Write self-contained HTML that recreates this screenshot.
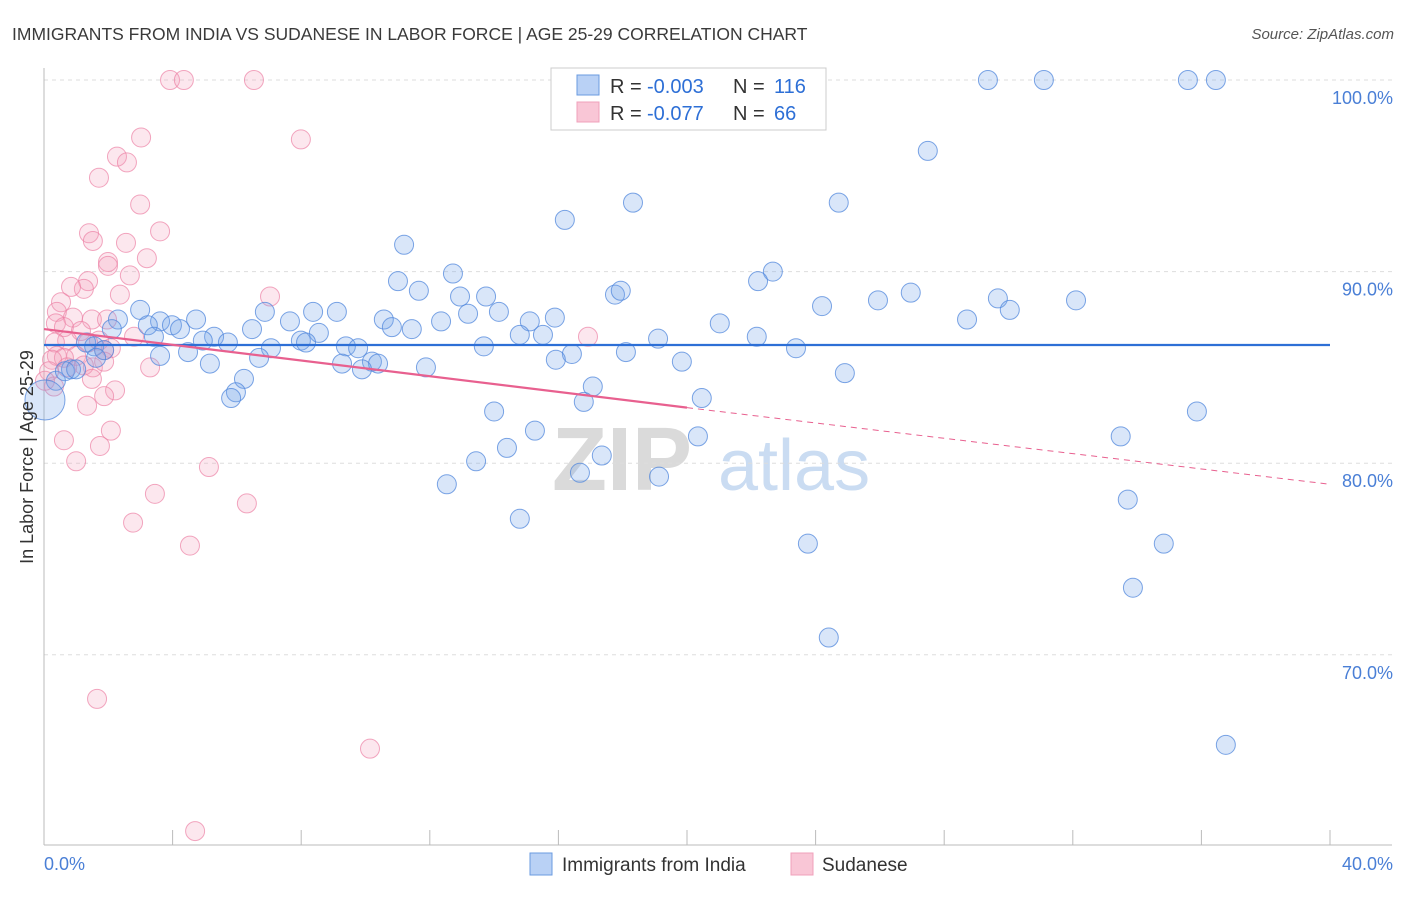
<!DOCTYPE html>
<html><head><meta charset="utf-8"><style>
body{margin:0;background:#fff;font-family:"Liberation Sans",sans-serif;}
svg text{font-family:"Liberation Sans",sans-serif;}
</style></head><body>
<svg id="chart" width="1406" height="892" xmlns="http://www.w3.org/2000/svg">
<text x="12" y="40" font-size="17.5" fill="#3a3a3a">IMMIGRANTS FROM INDIA VS SUDANESE IN LABOR FORCE | AGE 25-29 CORRELATION CHART</text>
<text x="1394" y="39" font-size="15" fill="#555" text-anchor="end" font-style="italic">Source: ZipAtlas.com</text>
<g>
<text x="552" y="490" font-size="90" fill="#dadada" font-family="Liberation Serif" font-weight="bold">ZIP</text>
<text x="718" y="490" font-size="72" fill="#cadcf2">atlas</text>
</g>
<g id="grid"></g>
<g id="axes"></g>
<g id="points"></g>
<g id="trends"></g>
<text transform="translate(33,457) rotate(-90)" font-size="18" fill="#333" text-anchor="middle">In Labor Force | Age 25-29</text>
<g>
<rect x="551" y="68" width="275" height="62" fill="#fff" stroke="#ccc"/>
<rect x="577" y="75" width="22" height="20" fill="#b9d1f5" stroke="#6a9be0"/>
<text x="610" y="93" font-size="20" fill="#333">R = </text>
<text x="647" y="93" font-size="20" fill="#2d6fd6">-0.003</text>
<text x="733" y="93" font-size="20" fill="#333">N = </text>
<text x="774" y="93" font-size="20" fill="#2d6fd6">116</text>
<rect x="577" y="102" width="22" height="20" fill="#f9c6d6" stroke="#f0a0bb"/>
<text x="610" y="120" font-size="20" fill="#333">R = </text>
<text x="647" y="120" font-size="20" fill="#2d6fd6">-0.077</text>
<text x="733" y="120" font-size="20" fill="#333">N = </text>
<text x="774" y="120" font-size="20" fill="#2d6fd6">66</text>
</g>
<g>
<rect x="530" y="853" width="22" height="22" fill="#b9d1f5" stroke="#6a9be0"/>
<text x="562" y="871" font-size="19" fill="#333">Immigrants from India</text>
<rect x="791" y="853" width="22" height="22" fill="#f9c6d6" stroke="#f0a0bb"/>
<text x="822" y="871" font-size="19" fill="#333">Sudanese</text>
</g>
</svg>
<script>
const yTicks=[100,90,80,70];
const yTickLabels=["100.0%","90.0%","80.0%","70.0%"];
const xTickVals=[0,4,8,12,16,20,24,28,32,36,40];
const indiaX=[29.36,31.10,35.58,36.45,27.49,18.32,24.72,16.20,11.20,22.67,12.72,11.01,22.21,11.66,17.76,17.94,12.94,13.75,26.96,29.67,32.10,25.94,24.20,30.04,2.99,13.19,14.15,6.87,8.37,9.11,28.71,10.57,12.35,15.11,15.89,7.65,2.30,3.61,4.73,21.02,3.23,3.98,4.23,6.47,10.82,11.44,2.11,14.80,15.52,8.55,19.10,22.17,3.42,5.29,4.94,5.72,7.99,1.31,8.15,1.56,9.39,9.77,23.39,18.10,16.42,13.68,4.48,1.87,7.06,19.84,15.92,6.69,3.61,5.16,9.27,10.20,10.39,1.62,11.88,9.89,24.91,6.22,0.37,0.84,0.65,1.0,5.97,5.82,17.07,16.79,20.46,14.0,35.86,15.27,33.49,20.34,14.40,17.35,13.44,16.67,19.13,12.53,33.71,14.80,23.76,34.83,33.87,24.41,36.76,0.03];
const indiaY=[100,100,100,100,96.3,93.6,93.6,92.7,91.4,90.0,89.9,89.5,89.5,89.0,88.8,89.0,88.7,88.7,88.9,88.6,88.5,88.5,88.2,88.0,88.0,87.8,87.9,87.9,87.9,87.9,87.5,87.5,87.4,87.4,87.6,87.4,87.5,87.4,87.5,87.3,87.2,87.2,87.0,87.0,87.1,87.0,87.0,86.7,86.7,86.8,86.5,86.6,86.6,86.6,86.4,86.3,86.4,86.3,86.3,86.1,86.1,86.0,86.0,85.8,85.7,86.1,85.8,85.9,86.0,85.3,85.4,85.5,85.6,85.2,85.2,85.3,85.2,85.5,85.0,84.9,84.7,84.4,84.3,84.9,84.8,84.9,83.7,83.4,84.0,83.2,83.4,82.7,82.7,81.7,81.4,81.4,80.8,80.4,80.1,79.5,79.3,78.9,78.1,77.1,75.8,75.8,73.5,70.9,65.3,83.3];
const sudanX=[3.92,4.35,6.53,7.99,3.02,2.27,2.58,1.71,2.99,1.40,1.52,3.61,2.55,1.99,1.99,3.20,2.67,1.37,1.24,0.84,2.36,7.03,0.53,0.40,0.90,1.49,1.96,0.37,0.62,1.15,2.80,0.72,1.71,0.34,1.37,2.08,16.92,0.40,1.0,0.62,1.87,0.25,0.72,1.52,1.24,3.30,0.16,1.87,1.49,0.31,2.21,1.87,1.34,2.08,0.62,1.74,1.0,5.13,3.45,6.31,2.77,4.54,1.65,10.14,4.70,0.03];
const sudanY=[100,100,100,96.9,97.0,96.0,95.7,94.9,93.5,92.0,91.6,92.1,91.5,90.5,90.3,90.7,89.8,89.5,89.1,89.2,88.8,88.7,88.4,87.9,87.6,87.5,87.5,87.3,87.1,86.9,86.6,86.4,86.4,86.3,86.3,86.0,86.6,85.6,85.6,85.5,85.9,85.4,85.0,85.0,85.1,85.0,84.8,85.3,84.4,84.0,83.8,83.5,83.0,81.7,81.2,80.9,80.1,79.8,78.4,77.9,76.9,75.7,67.7,65.1,60.8,84.3];
const indiaTrend=[[0,86.17],[40,86.17]];
const sudanTrend=[[0,87.0],[20,82.9],[40,78.9]];
const NS="http://www.w3.org/2000/svg";
const X=v=>44+v*(1286/40);
const Y=v=>80+(100-v)*19.16;
function mk(tag,attrs,parent){const e=document.createElementNS(NS,tag);for(const k in attrs)e.setAttribute(k,attrs[k]);document.getElementById(parent).appendChild(e);return e;}
yTicks.forEach((t,i)=>{
 const g=mk('line',{x1:44,x2:1392,y1:Y(t),y2:Y(t),stroke:'#ddd','stroke-dasharray':'4,4'},'grid');
 
 
 const l=mk('text',{x:1393,y:Y(t)+24,'font-size':18,fill:'#4a7fd6','text-anchor':'end'},'grid');
 l.textContent=yTickLabels[i];
 
 
});
const ya=mk('line',{x1:44,x2:44,y1:68,y2:845,stroke:'#bbb'},'axes');


const xa=mk('line',{x1:44,x2:1392,y1:845,y2:845,stroke:'#bbb'},'axes');


xTickVals.forEach(v=>{
 const t=mk('line',{x1:X(v),x2:X(v),y1:830,y2:845,stroke:'#bbb'},'axes');
 
 
});
const x0=mk('text',{x:44,y:870,'font-size':18,fill:'#4a7fd6'},'axes');x0.textContent='0.0%';


const x1=mk('text',{x:1393,y:870,'font-size':18,fill:'#4a7fd6','text-anchor':'end'},'axes');x1.textContent='40.0%';


function pts(xs,ys,fill,stroke,name,bigIdx){
 xs.forEach((x,i)=>{
  const r=(i===bigIdx)?20:9.5;
  const c=mk('circle',{cx:X(x),cy:Y(ys[i]),r:r,fill:fill,stroke:stroke,'stroke-width':1},'points');
  
  
 });
}
pts(sudanX,sudanY,'rgba(244,160,188,0.25)','rgba(236,130,165,0.7)','sudanese-point',-1);
pts(indiaX,indiaY,'rgba(120,165,235,0.28)','rgba(80,135,220,0.75)','india-point',indiaX.length-1);
const bl=mk('line',{x1:X(indiaTrend[0][0]),y1:Y(indiaTrend[0][1]),x2:X(indiaTrend[1][0]),y2:Y(indiaTrend[1][1]),stroke:'#2d6fd6','stroke-width':2.2},'trends');


const pl=mk('line',{x1:X(sudanTrend[0][0]),y1:Y(sudanTrend[0][1]),x2:X(sudanTrend[1][0]),y2:Y(sudanTrend[1][1]),stroke:'#e8608f','stroke-width':2.2},'trends');


const pd=mk('line',{x1:X(sudanTrend[1][0]),y1:Y(sudanTrend[1][1]),x2:X(sudanTrend[2][0]),y2:Y(sudanTrend[2][1]),stroke:'#e8608f','stroke-width':1,'stroke-dasharray':'6,5'},'trends');


</script>
</body></html>
